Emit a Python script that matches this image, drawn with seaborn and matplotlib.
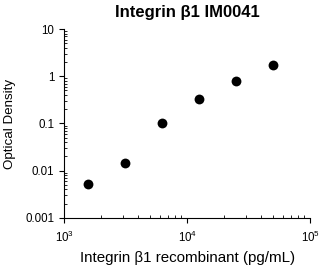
import matplotlib
matplotlib.use("Agg")
import matplotlib.pyplot as plt
import matplotlib.ticker as mticker
import seaborn as sns
import pandas as pd

concentration = [1562.5, 3125, 6250, 12500, 25000, 50000]
optical_density = [0.0052, 0.0144, 0.104, 0.335, 0.79, 1.72]

sns.set_theme(style="white")
plt.rcParams['font.family'] = ['Liberation Sans', 'DejaVu Sans']

df = pd.DataFrame({"conc": concentration, "od": optical_density})

fig = plt.figure(figsize=(3.24, 2.69), dpi=100)
ax = fig.add_axes([0.198, 0.190, 0.759, 0.702])
sns.scatterplot(data=df, x="conc", y="od", ax=ax, color="black", s=50,
                edgecolor="black", linewidth=0, legend=False)
ax.set_xscale("log")
ax.set_yscale("log")
ax.set_xlim(1e3, 1e5)
ax.set_ylim(1e-3, 10)

ax.xaxis.set_major_locator(mticker.LogLocator(base=10, numticks=10))
ax.xaxis.set_major_formatter(mticker.LogFormatterMathtext())
ax.yaxis.set_major_locator(mticker.FixedLocator([0.001, 0.01, 0.1, 1, 10]))
ax.yaxis.set_major_formatter(mticker.FixedFormatter(["0.001", "0.01", "0.1", "1", "10"]))
ax.xaxis.set_minor_locator(mticker.LogLocator(base=10, subs=range(2, 10), numticks=10))
ax.yaxis.set_minor_locator(mticker.LogLocator(base=10, subs=range(2, 10), numticks=10))
ax.yaxis.set_minor_formatter(mticker.NullFormatter())
ax.xaxis.set_minor_formatter(mticker.NullFormatter())

for s in ["top", "right"]:
    ax.spines[s].set_visible(False)
for s in ["left", "bottom"]:
    ax.spines[s].set_color("black")
    ax.spines[s].set_linewidth(0.8)

ax.tick_params(which="major", direction="out", length=3.6, width=0.8, colors="black",
               labelsize=8.3, left=True, bottom=True)
ax.tick_params(which="minor", direction="in", length=2.2, width=0.6, colors="black",
               left=True, bottom=True)
ax.tick_params(axis="x", which="major", pad=5)

ax.set_xlabel("Integrin β1 recombinant (pg/mL)", fontsize=10.9, color="black", labelpad=4)
ax.set_ylabel("Optical Density", fontsize=9.6, color="black", labelpad=7)
ax.set_title("Integrin β1 IM0041", fontsize=12, fontweight="bold", color="black", pad=9)

fig.savefig("out.png", dpi=100)
